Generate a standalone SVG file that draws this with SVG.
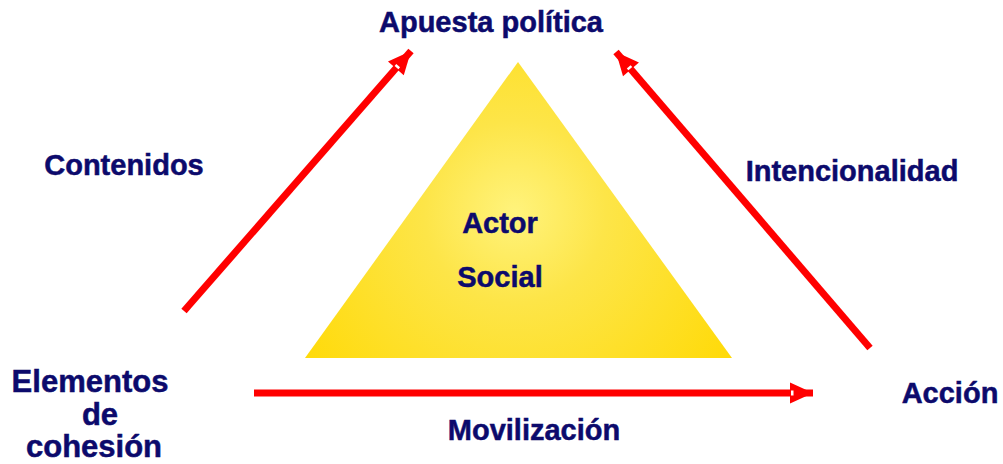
<svg xmlns="http://www.w3.org/2000/svg" width="1003" height="464" viewBox="0 0 1003 464">
<style>
.t{font-family:"Liberation Sans",Arial,sans-serif;font-weight:bold;font-size:29px;fill:#0C0A6C;stroke:#0C0A6C;stroke-width:0.5}
.b{font-size:31px}
.a{stroke:#FF0000;stroke-width:7;fill:none}
</style>
<defs>
<radialGradient id="g" gradientUnits="userSpaceOnUse" cx="515" cy="212" r="260">
<stop offset="0" stop-color="#FFF37C"/>
<stop offset="0.35" stop-color="#FDE548"/>
<stop offset="1" stop-color="#FFDA08"/>
</radialGradient>
<marker id="h" markerUnits="userSpaceOnUse" markerWidth="30" markerHeight="26" viewBox="0 -13 26 26" refX="23" refY="0" orient="auto">
<path d="M0,-10.5 L23,0 L0,10.5 z" fill="#FF0000"/>
<rect x="1" y="-2.5" width="2.5" height="5" fill="#FFFFFF"/>
</marker>
</defs>
<g id="triangle">
<polygon points="518,62 732,358 305,358" fill="url(#g)"/>
<text class="t" x="500" y="233" text-anchor="middle">Actor</text>
<text class="t" x="500" y="287" text-anchor="middle">Social</text>
</g>
<g id="connectors">
<line class="a" x1="184" y1="311" x2="411" y2="51" marker-end="url(#h)"/>
<line class="a" x1="870" y1="348" x2="616" y2="52" marker-end="url(#h)"/>
<line class="a" x1="254" y1="393" x2="813" y2="393" marker-end="url(#h)"/>
</g>
<g id="apuesta"><text class="t" x="491" y="32" text-anchor="middle">Apuesta política</text></g>
<g id="contenidos"><text class="t" x="124" y="175" text-anchor="middle">Contenidos</text></g>
<g id="intencionalidad"><text class="t" x="852" y="181" text-anchor="middle">Intencionalidad</text></g>
<g id="accion"><text class="t" x="950" y="403" text-anchor="middle">Acción</text></g>
<g id="movilizacion"><text class="t" x="534" y="440" text-anchor="middle">Movilización</text></g>
<g id="elementos">
<text class="t b" x="90" y="392" text-anchor="middle">Elementos</text>
<text class="t b" x="100" y="425" text-anchor="middle">de</text>
<text class="t b" x="94" y="457" text-anchor="middle">cohesión</text>
</g>
</svg>
